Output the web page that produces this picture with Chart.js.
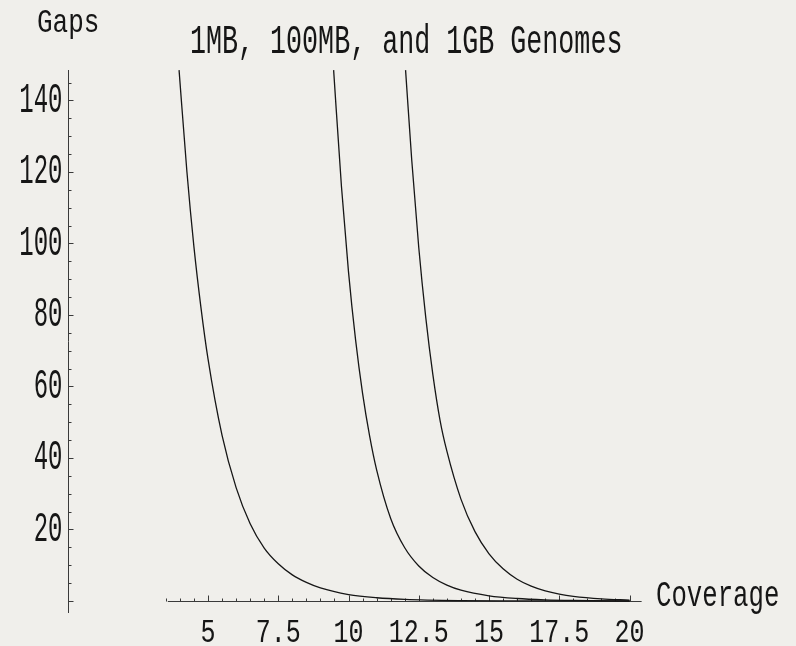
<!DOCTYPE html>
<html>
<head>
<meta charset="utf-8">
<script src="https://cdn.jsdelivr.net/npm/chart.js@4"></script>
<style>
  html, body { margin: 0; padding: 0; background: #f0efeb; }
  canvas { display: block; }
</style>
</head>
<body>
<canvas id="c" width="796" height="646"></canvas>
<script>
// ---- chart text ----
const chartTitle = '1MB, 100MB, and 1GB Genomes';
const yAxisTitle = 'Gaps';
const xAxisTitle = 'Coverage';

// ---- tick labels ----
const xTickLabels = [5, 7.5, 10, 12.5, 15, 17.5, 20];
const yTickLabels = [20, 40, 60, 80, 100, 120, 140];

// ---- series ----
const coverage1MB = [3.97, 4.25, 4.5, 4.75, 5.0, 5.5, 6.0, 6.5, 7.0, 7.5, 8.0, 8.5, 9.0, 10, 11, 12, 14, 16, 20];
const gaps1MB     = [148.5, 120, 99, 82, 67.7, 46.3, 31.7, 21.6, 14.8, 10.4, 7.3, 5.2, 3.65, 1.8, 0.9, 0.45, 0.11, 0.03, 0];

const coverage100MB = [9.47, 9.75, 10.0, 10.25, 10.5, 10.75, 11.0, 11.5, 12.0, 12.5, 13.0, 13.5, 14.0, 15, 16, 17, 18, 20];
const gaps100MB     = [148.5, 115.8, 92, 73.1, 58.1, 46.2, 36.7, 23.1, 14.9, 9.8, 6.55, 4.44, 3.03, 1.45, 0.7, 0.33, 0.15, 0];

const coverage1GB = [12.03, 12.25, 12.5, 12.75, 13.0, 13.26, 13.5, 14.0, 14.5, 15.0, 15.5, 16.0, 16.5, 17.0, 17.5, 18, 19, 20];
const gaps1GB     = [148.5, 123.3, 98.8, 79.2, 63.4, 50.4, 41.9, 28.5, 19.4, 13.2, 9.0, 6.1, 4.16, 2.83, 1.93, 1.31, 0.6, 0.25];

// ---- axis extents ----
const xRange = [0, 20.5];
const yRange = [-3.36, 148.53];
const xAxisExtent = [3.57, 20.43];
const xMinorStart = 3.5, xMinorEnd = 20, xMinorStep = 0.5, xMajorStep = 2.5;
const yMinorStart = 0, yMinorEnd = 145, yMinorStep = 5, yMajorStep = 20;

// ---- styles ----
const BG = '#f0efeb';
const INK = '#161616';
const AXIS = '#3a3a3a';
const MONO = '"Liberation Mono", "Courier New", monospace';
const X_LABEL_STRETCH = 1.33;
const Y_LABEL_STRETCH = 1.8;

function zip(xs, ys) { return xs.map((x, i) => ({ x: x, y: ys[i] })); }

const bgPlugin = {
  id: 'bg',
  beforeDraw(chart) {
    const ctx = chart.ctx;
    ctx.save();
    ctx.fillStyle = BG;
    ctx.fillRect(0, 0, chart.width, chart.height);
    ctx.restore();
  }
};

// stretch tick labels vertically (the reference glyphs are tall and narrow)
const stretchTicksPlugin = {
  id: 'stretchTicks',
  beforeDraw(chart) {
    for (const id of ['x', 'y']) {
      const s = chart.scales[id];
      if (!s || s._stretched) continue;
      const sy = id === 'x' ? X_LABEL_STRETCH : Y_LABEL_STRETCH;
      const orig = s.drawLabels.bind(s);
      s.drawLabels = function (area) {
        const ctx = this.ctx;
        ctx.rotate = function (a) {
          CanvasRenderingContext2D.prototype.rotate.call(this, a);
          CanvasRenderingContext2D.prototype.scale.call(this, 1, sy);
        };
        try { orig(area); } finally { delete ctx.rotate; }
      };
      s._stretched = true;
    }
  }
};

const axesPlugin = {
  id: 'mmaAxes',
  beforeDatasetsDraw(chart) {
    const ctx = chart.ctx, xs = chart.scales.x, ys = chart.scales.y, a = chart.chartArea;
    ctx.save();
    ctx.strokeStyle = AXIS;
    ctx.lineWidth = 1;
    // y axis at x = 0
    const x0 = Math.round(xs.getPixelForValue(0)) + 0.5;
    ctx.beginPath(); ctx.moveTo(x0, a.top); ctx.lineTo(x0, a.bottom); ctx.stroke();
    // x axis at y = 0
    const y0 = Math.round(ys.getPixelForValue(0)) + 0.5;
    ctx.beginPath();
    ctx.moveTo(xs.getPixelForValue(xAxisExtent[0]), y0);
    ctx.lineTo(xs.getPixelForValue(xAxisExtent[1]), y0);
    ctx.stroke();
    // x ticks (pointing up)
    ctx.beginPath();
    for (let v = xMinorStart; v <= xMinorEnd + 1e-9; v += xMinorStep) {
      const major = Math.abs(v / xMajorStep - Math.round(v / xMajorStep)) < 1e-6;
      const px = Math.round(xs.getPixelForValue(v)) + 0.5;
      ctx.moveTo(px, y0); ctx.lineTo(px, y0 - (major ? 6 : 3));
    }
    // y ticks (pointing right)
    for (let v = yMinorStart; v <= yMinorEnd + 1e-9; v += yMinorStep) {
      const major = Math.abs(v / yMajorStep - Math.round(v / yMajorStep)) < 1e-6;
      const py = Math.round(ys.getPixelForValue(v)) + 0.5;
      ctx.moveTo(x0, py); ctx.lineTo(x0 + (major ? 5 : 3), py);
    }
    ctx.stroke();
    ctx.restore();
  }
};

function stretchedText(ctx, text, x, y, size, sy) {
  ctx.save();
  ctx.translate(x, y);
  ctx.scale(1, sy);
  ctx.font = size + 'px ' + MONO;
  ctx.fillStyle = INK;
  ctx.textAlign = 'left';
  ctx.textBaseline = 'alphabetic';
  ctx.fillText(text, 0, 0);
  ctx.restore();
}

const labelsPlugin = {
  id: 'labels',
  afterDraw(chart) {
    const ctx = chart.ctx;
    stretchedText(ctx, chartTitle, 190, 53, 26.7, 1.5);
    stretchedText(ctx, yAxisTitle, 37, 32, 26, 1.27);
    stretchedText(ctx, xAxisTitle, 656, 606, 25.7, 1.45);
  }
};

const lineStyle = {
  showLine: true,
  borderColor: INK,
  borderWidth: 1.3,
  pointRadius: 0,
  fill: false,
  cubicInterpolationMode: 'monotone'
};

new Chart(document.getElementById('c'), {
  type: 'scatter',
  data: {
    datasets: [
      Object.assign({ label: '1MB', data: zip(coverage1MB, gaps1MB) }, lineStyle),
      Object.assign({ label: '100MB', data: zip(coverage100MB, gaps100MB) }, lineStyle),
      Object.assign({ label: '1GB', data: zip(coverage1GB, gaps1GB) }, lineStyle)
    ]
  },
  options: {
    responsive: false,
    animation: false,
    events: [],
    layout: { padding: { left: 0, top: 70, right: 152.4, bottom: 0 } },
    plugins: { legend: { display: false }, tooltip: { enabled: false }, title: { display: false } },
    scales: {
      x: {
        type: 'linear',
        position: 'bottom',
        min: xRange[0],
        max: xRange[1],
        grid: { display: false, drawTicks: false },
        border: { display: false },
        afterBuildTicks: s => { s.ticks = xTickLabels.map(v => ({ value: v })); },
        afterFit: s => { s.height = 33; },
        ticks: {
          autoSkip: false,
          maxRotation: 0,
          padding: 0,
          color: INK,
          font: { family: MONO, size: 25 },
          callback: v => String(v)
        }
      },
      y: {
        type: 'linear',
        position: 'left',
        min: yRange[0],
        max: yRange[1],
        grid: { display: false, drawTicks: false },
        border: { display: false },
        afterBuildTicks: s => { s.ticks = yTickLabels.map(v => ({ value: v })); },
        afterFit: s => { s.width = 67.5; },
        ticks: {
          autoSkip: false,
          padding: 5,
          color: INK,
          font: { family: MONO, size: 24 },
          callback: v => String(v)
        }
      }
    }
  },
  plugins: [bgPlugin, stretchTicksPlugin, axesPlugin, labelsPlugin]
});
</script>
</body>
</html>
